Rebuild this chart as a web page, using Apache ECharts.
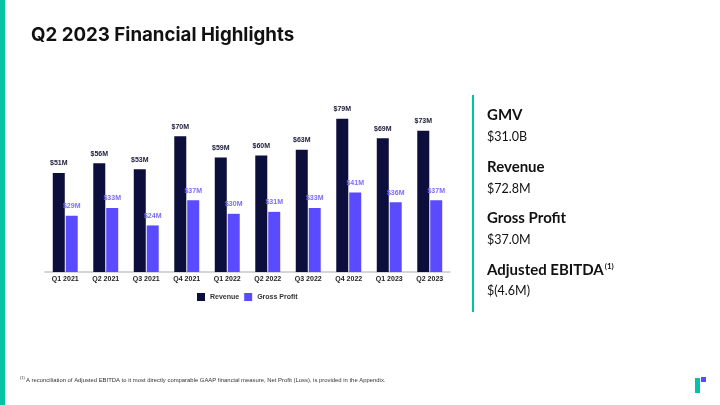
<!DOCTYPE html>
<html><head><meta charset="utf-8">
<script src="https://cdn.jsdelivr.net/npm/echarts@6/dist/echarts.min.js"></script>
<style>html,body{margin:0;padding:0;background:#fff}#c{width:720px;height:405px}</style>
</head><body><div id="c"></div>
<script>
const categories = ['Q1 2021','Q2 2021','Q3 2021','Q4 2021','Q1 2022','Q2 2022','Q3 2022','Q4 2022','Q1 2023','Q2 2023'];
const revenue = [51,56,53,70,59,60,63,79,69,72.8];
const grossProfit = [29,33,24,37,30,31,33,41,36,37.0];
const highlights = [
  {label:'GMV', value:'$31.0B', sup:''},
  {label:'Revenue', value:'$72.8M', sup:''},
  {label:'Gross Profit', value:'$37.0M', sup:''},
  {label:'Adjusted EBITDA', value:'$(4.6M)', sup:'(1)'}
];
const footnote = 'A reconciliation of Adjusted EBITDA to it most directly comparable GAAP financial measure, Net Profit (Loss), is provided in the Appendix.';

const NAVY = '#0c0e3b', PURPLE = '#5b4bff', TEAL = '#00c4a4';
const chart = echarts.init(document.getElementById('c'), null, {renderer:'canvas'});

const graphics = [
  {type:'rect', shape:{x:0,y:0,width:5,height:405}, style:{fill:TEAL}},
  {type:'text', left:31, top:26, style:{text:'Q2 2023 Financial Highlights', font:'bold 18.7px Inter', fill:'#111'}},
  {type:'rect', shape:{x:472,y:95,width:2,height:217}, style:{fill:TEAL}},
  {type:'text', left:20, top:376, style:{text:'(1)', font:'4px "Liberation Sans"', fill:'#333'}},
  {type:'text', left:26, top:377.5, style:{text:footnote, font:'5.9px "Liberation Sans"', fill:'#333'}},
  {type:'rect', shape:{x:695,y:378,width:5,height:15}, style:{fill:TEAL}},
  {type:'rect', shape:{x:701,y:377,width:5,height:5}, style:{fill:PURPLE}}
];
const ys = [108, 160, 211, 262];
highlights.forEach((h,i)=>{
  graphics.push({type:'text', left:487, top:ys[i], style:{
    text: h.sup ? '{a|'+h.label+'}{b|'+h.sup+'}' : '{a|'+h.label+'}',
    rich:{a:{font:'bold 15px Lato', fill:'#111'}, b:{font:'bold 8px Lato', fill:'#111', verticalAlign:'top', padding:[0,0,8,1]}}}});
  graphics.push({type:'text', left:487, top:ys[i]+22, style:{text:h.value, font:'12.5px Lato', fill:'#111'}});
});

chart.setOption({
  animation:false,
  grid:{left:45, width:405, top:78, height:194},
  legend:{left:192, top:288, itemWidth:8, itemHeight:8, itemGap:5, icon:'rect',
    textStyle:{fontSize:7, fontWeight:'bold', color:'#333', fontFamily:'Liberation Sans'},
    data:['Revenue','Gross Profit']},
  xAxis:{type:'category', data:categories,
    axisLine:{lineStyle:{color:'#c8c8c8', width:1.5}}, axisTick:{show:false},
    axisLabel:{fontSize:7, fontWeight:'bold', color:'#222', margin:4, fontFamily:'Liberation Sans'}},
  yAxis:{type:'value', min:0, max:100, show:false, splitLine:{show:false}},
  series:[
    {name:'Revenue', type:'bar', data:revenue, barWidth:12, barGap:'8%', itemStyle:{color:NAVY},
     label:{show:true, position:'top', distance:6, fontSize:7, fontWeight:'bold', color:'#1a1a3a', fontFamily:'Liberation Sans',
       formatter:p=>'$'+Math.round(p.value)+'M'}},
    {name:'Gross Profit', type:'bar', data:grossProfit, barWidth:12, itemStyle:{color:PURPLE},
     label:{show:true, position:'top', distance:6, fontSize:7, fontWeight:'bold', color:'#7a6cff', fontFamily:'Liberation Sans',
       formatter:p=>'$'+Math.round(p.value)+'M'}}
  ],
  graphic:graphics
});
</script></body></html>
